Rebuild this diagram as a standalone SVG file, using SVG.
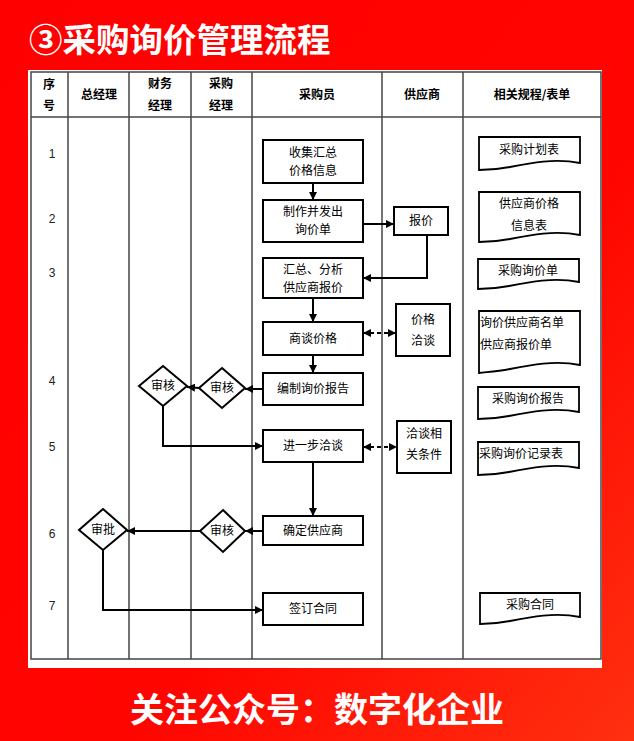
<svg xmlns="http://www.w3.org/2000/svg" width="634" height="741" viewBox="0 0 634 741">
<defs>
<linearGradient id="bg" x1="0" y1="0" x2="1" y2="1">
<stop offset="0" stop-color="#ff0000"/>
<stop offset="0.6" stop-color="#ff0500"/>
<stop offset="1" stop-color="#ff3010"/>
</linearGradient>
<marker id="ah" viewBox="0 0 10 10" refX="10" refY="5" markerWidth="8" markerHeight="8" markerUnits="userSpaceOnUse" orient="auto-start-reverse">
<path d="M0,0 L10,5 L0,10 Z" fill="#000"/>
</marker>
</defs>
<style>
.title{font-family:"Noto Sans CJK SC","Noto Sans",sans-serif;font-weight:bold;fill:#fff}
.grid{stroke:#444;stroke-width:1.5;fill:none}
.hd{font-family:"Noto Sans CJK SC",sans-serif;font-weight:bold;font-size:12px;fill:#000;text-anchor:middle}
.num{font-family:"Liberation Sans",sans-serif;font-size:12px;fill:#222;text-anchor:middle}
.box{fill:#fff;stroke:#000;stroke-width:2}
.doc{fill:#fff;stroke:#000;stroke-width:1.8}
.t{font-family:"Noto Sans CJK SC",sans-serif;font-size:12px;fill:#000;text-anchor:middle}
.tl{font-family:"Noto Sans CJK SC",sans-serif;font-size:12px;fill:#000}
.ln{stroke:#000;stroke-width:2;fill:none;marker-end:url(#ah)}
.dl{stroke:#000;stroke-width:2;fill:none;stroke-dasharray:4 3;marker-start:url(#ah);marker-end:url(#ah)}
</style>
<rect x="0" y="0" width="634" height="741" fill="url(#bg)"/>
<text class="title" x="29" y="52" font-size="33.5">③采购询价管理流程</text>
<rect x="28" y="70" width="574" height="598" fill="#fff"/>
<g id="table">
<rect class="grid" x="31" y="72" width="570" height="587"/>
<line class="grid" x1="31" y1="117" x2="601" y2="117"/>
<line class="grid" x1="68" y1="72" x2="68" y2="659"/>
<line class="grid" x1="129" y1="72" x2="129" y2="659"/>
<line class="grid" x1="191" y1="72" x2="191" y2="659"/>
<line class="grid" x1="252" y1="72" x2="252" y2="659"/>
<line class="grid" x1="382" y1="72" x2="382" y2="659"/>
<line class="grid" x1="463" y1="72" x2="463" y2="659"/>
<text class="hd" x="49" y="89">序</text>
<text class="hd" x="49" y="110">号</text>
<text class="hd" x="99" y="99">总经理</text>
<text class="hd" x="160" y="88">财务</text>
<text class="hd" x="160" y="110">经理</text>
<text class="hd" x="221" y="88">采购</text>
<text class="hd" x="221" y="110">经理</text>
<text class="hd" x="317" y="99">采购员</text>
<text class="hd" x="422" y="99">供应商</text>
<text class="hd" x="532" y="99">相关规程/表单</text>
<text class="num" x="52" y="158">1</text>
<text class="num" x="52" y="223">2</text>
<text class="num" x="52" y="277">3</text>
<text class="num" x="52" y="385">4</text>
<text class="num" x="52" y="451">5</text>
<text class="num" x="52" y="538">6</text>
<text class="num" x="52" y="610">7</text>
</g>
<g id="connectors">
<line class="ln" x1="313" y1="183" x2="313" y2="200"/>
<line class="ln" x1="363" y1="224" x2="394" y2="224"/>
<polyline class="ln" points="427,235 427,278 363,278"/>
<line class="ln" x1="313" y1="298" x2="313" y2="322"/>
<line class="ln" x1="313" y1="355" x2="313" y2="373"/>
<line class="dl" x1="363" y1="333" x2="396" y2="333"/>
<line class="ln" x1="263" y1="389" x2="245" y2="389"/>
<line class="ln" x1="199" y1="388" x2="187" y2="387"/>
<polyline class="ln" points="163,406 163,446 263,446"/>
<line class="dl" x1="363" y1="447" x2="397" y2="447"/>
<line class="ln" x1="313" y1="462" x2="313" y2="516"/>
<line class="ln" x1="263" y1="531" x2="245" y2="531"/>
<line class="ln" x1="200" y1="531" x2="127" y2="531"/>
<polyline class="ln" points="103,550 103,610 263,610"/>
</g>
<g id="n1"><rect class="box" x="263" y="140" width="100" height="43"/><text class="t" x="313" y="157">收集汇总</text><text class="t" x="313" y="175">价格信息</text></g>
<g id="n2"><rect class="box" x="263" y="200" width="100" height="42"/><text class="t" x="313" y="216">制作并发出</text><text class="t" x="313" y="234">询价单</text></g>
<g id="n3"><rect class="box" x="263" y="258" width="100" height="40"/><text class="t" x="313" y="274">汇总、分析</text><text class="t" x="313" y="292">供应商报价</text></g>
<g id="n4"><rect class="box" x="263" y="322" width="100" height="33"/><text class="t" x="313" y="343">商谈价格</text></g>
<g id="n5"><rect class="box" x="263" y="373" width="100" height="32"/><text class="t" x="313" y="393">编制询价报告</text></g>
<g id="n6"><rect class="box" x="263" y="430" width="100" height="32"/><text class="t" x="313" y="450">进一步洽谈</text></g>
<g id="n7"><rect class="box" x="263" y="516" width="100" height="29"/><text class="t" x="313" y="535">确定供应商</text></g>
<g id="n8"><rect class="box" x="263" y="593" width="100" height="32"/><text class="t" x="313" y="613">签订合同</text></g>
<g id="s1"><rect class="box" x="394" y="207" width="54" height="28"/><text class="t" x="421" y="225">报价</text></g>
<g id="s2"><rect class="box" x="396" y="304" width="54" height="52"/><text class="t" x="423" y="324">价格</text><text class="t" x="423" y="345">洽谈</text></g>
<g id="s3"><rect class="box" x="397" y="421" width="54" height="52"/><text class="t" x="424" y="438">洽谈相</text><text class="t" x="424" y="459">关条件</text></g>
<g id="d1"><polygon class="box" points="222,368 245,388 222,408 199,388"/><text class="t" x="222" y="392">审核</text></g>
<g id="d2"><polygon class="box" points="163,366 187,386 163,406 139,386"/><text class="t" x="163" y="390">审核</text></g>
<g id="d3"><polygon class="box" points="223,510 245,531 223,552 200,531"/><text class="t" x="222" y="535">审核</text></g>
<g id="d4"><polygon class="box" points="103,509 127,530 103,550 79,530"/><text class="t" x="103" y="534">审批</text></g>
<g id="f1"><path class="doc" d="M479,137 H580 V163 C555,158 530,163 510,167 C495,170 485,170 479,170 Z"/><text class="t" x="529" y="154">采购计划表</text></g>
<g id="f2"><path class="doc" d="M479,192 H580 V235 C555,230 530,235 510,239 C495,242 485,242 479,242 Z"/><text class="t" x="529" y="208">供应商价格</text><text class="t" x="529" y="230">信息表</text></g>
<g id="f3"><path class="doc" d="M478,259 H579 V282 C554,277 529,282 509,286 C494,289 484,289 478,289 Z"/><text class="t" x="528" y="275">采购询价单</text></g>
<g id="f4"><path class="doc" d="M479,311 H580 V365 C555,360 530,365 510,369 C495,372 485,372 479,373 Z"/><text class="tl" x="480" y="327">询价供应商名单</text><text class="tl" x="480" y="349">供应商报价单</text></g>
<g id="f5"><path class="doc" d="M478,387 H579 V412 C554,407 529,412 509,416 C494,419 484,419 478,419 Z"/><text class="t" x="528" y="403">采购询价报告</text></g>
<g id="f6"><path class="doc" d="M478,442 H579 V468 C554,463 529,468 509,472 C494,475 484,475 478,475 Z"/><text class="tl" x="479" y="458">采购询价记录表</text></g>
<g id="f7"><path class="doc" d="M480,593 H580 V617 C555,612 530,617 510,621 C495,624 485,624 480,624 Z"/><text class="t" x="530" y="609">采购合同</text></g>
<text class="title" x="317" y="722" font-size="34" text-anchor="middle">关注公众号：数字化企业</text>
</svg>
